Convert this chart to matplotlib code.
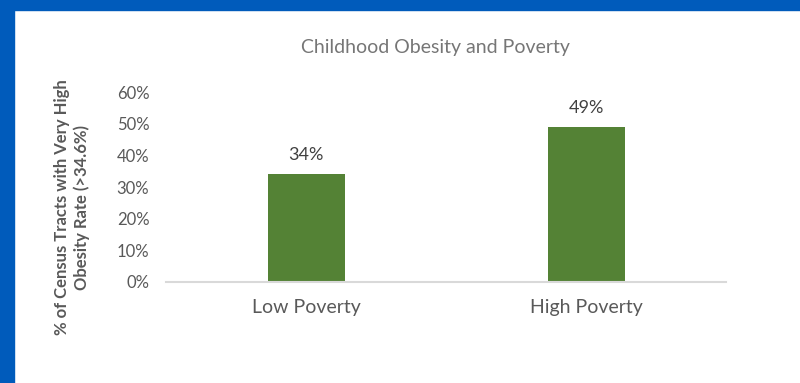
import matplotlib.pyplot as plt
from matplotlib.patches import Rectangle
from matplotlib.ticker import PercentFormatter

plt.rcParams["font.family"] = ["Lato", "DejaVu Sans"]

categories = ["Low Poverty", "High Poverty"]
values = [0.34, 0.49]
labels = ["34%", "49%"]
yticks = [0, 0.1, 0.2, 0.3, 0.4, 0.5, 0.6]

grey = "#595959"
green = "#548235"
blue = "#005BBB"

fig = plt.figure(figsize=(8, 3.83), dpi=100)

# blue frame at top and left
fig.patches.append(Rectangle((0, 1 - 10 / 383), 1, 10 / 383, transform=fig.transFigure,
                             color=blue, zorder=0))
fig.patches.append(Rectangle((0, 0), 14 / 800, 1, transform=fig.transFigure,
                             color=blue, zorder=0))

ax = fig.add_axes([166 / 800, 101 / 383, 560 / 800, 190 / 383])
x = range(len(categories))
ax.bar(x, values, width=0.275, color=green)
for xi, v, lab in zip(x, values, labels):
    ax.text(xi, v + 0.035, lab, ha="center", va="bottom", fontsize=13, color="#404040")

ax.set_xlim(-0.5, 1.5)
ax.set_ylim(0, 0.6)
ax.set_yticks(yticks)
ax.yaxis.set_major_formatter(PercentFormatter(1.0, decimals=0))
ax.set_xticks(list(x))
ax.set_xticklabels(categories, fontsize=14, color=grey)
ax.tick_params(axis="y", length=0, labelsize=12, labelcolor=grey, pad=12)
ax.tick_params(axis="x", length=0, pad=12)
for side in ["top", "right", "left"]:
    ax.spines[side].set_visible(False)
ax.spines["bottom"].set_color("#D9D9D9")
ax.spines["bottom"].set_linewidth(1.5)

fig.text(435 / 800, 1 - 48 / 383, "Childhood Obesity and Poverty", ha="center", va="center",
         fontsize=14, color="#767676")
fig.text(72 / 800, 1 - 207 / 383, "% of Census Tracts with Very High\nObesity Rate (>34.6%)",
         rotation=90, ha="center", va="center", fontsize=12, fontweight="bold",
         color=grey, linespacing=1.25)

fig.savefig("out.png", dpi=100)
